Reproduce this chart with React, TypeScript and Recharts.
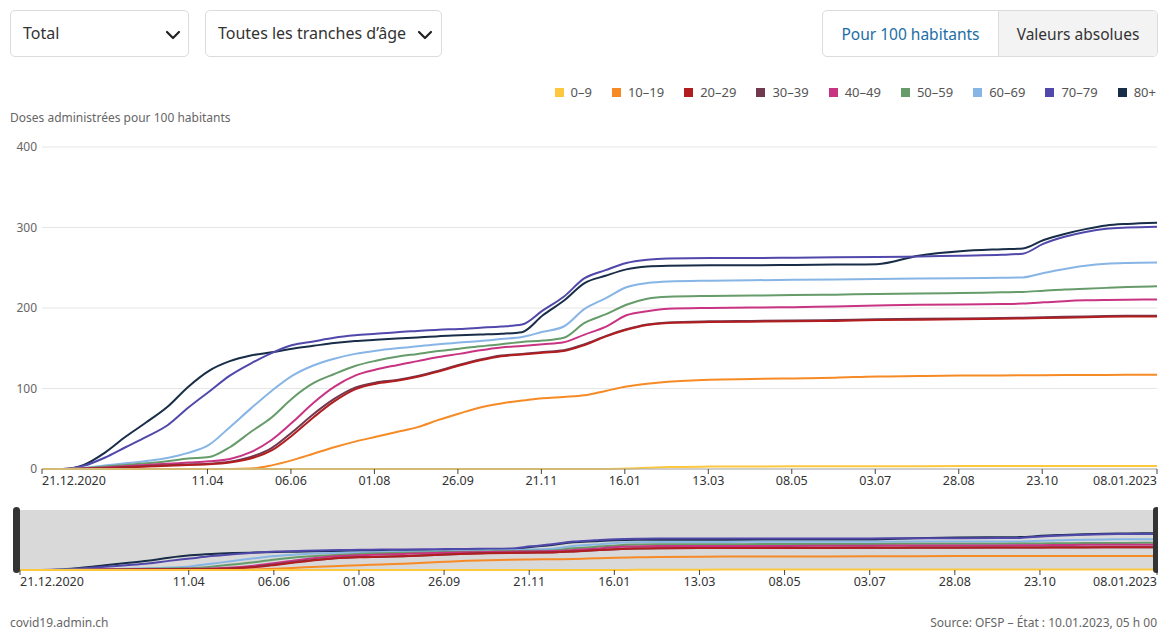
import React from 'react';
import { LineChart, Line, XAxis, YAxis, CartesianGrid } from 'recharts';

// days since 21.12.2020
const DAYS = [
  0, 14, 28, 42, 56, 70, 84, 98, 112, 126, 140, 154, 168, 182, 196, 210, 224, 238, 252, 266, 280, 294, 308, 322,
  336, 350, 364, 378, 392, 406, 420, 448, 476, 504, 532, 560, 588, 616, 644, 658, 672, 686, 700, 714, 728, 748,
];

const AGE_0_9 = [
  0, 0, 0, 0, 0, 0, 0, 0, 0, 0, 0, 0, 0, 0, 0, 0, 0, 0, 0, 0, 0, 0, 0, 0, 0, 0, 0, 0, 0.5, 1.5, 2.5, 3, 3.2, 3.3,
  3.4, 3.5, 3.5, 3.6, 3.6, 3.7, 3.7, 3.7, 3.8, 3.8, 3.8, 3.8,
];
const AGE_10_19 = [
  0, 0, 0, 0, 0, 0, 0, 0, 0, 0, 0.5, 4.5, 11, 19, 27, 34, 40, 46, 52, 61, 69, 76.5, 81.5, 85, 88, 89.5, 91.5, 97,
  102.5, 106, 108.5, 111, 111.8, 112.5, 113.5, 115, 115.5, 116, 116.3, 116.5, 116.6, 116.7, 116.8, 116.9, 117, 117,
];
const AGE_20_29 = [
  0, 0, 0.3, 1, 2, 3, 4, 5, 5.8, 8, 13, 23, 42, 64, 84, 99, 106, 109.5, 114.5, 121, 128.5, 135, 140, 142.2, 144.5,
  146.5, 154, 164.5, 173, 179, 181.5, 182.5, 183, 183.5, 184, 185, 185.5, 186, 186.5, 187, 187.5, 188, 188.5, 189,
  189.3, 189.5,
];
const AGE_30_39 = [
  0, 0, 0.4, 1.2, 2.4, 3.5, 4.6, 5.6, 6.5, 9, 15, 26, 46, 68, 87, 101, 107.5, 110.5, 115.5, 122, 129.5, 136, 141,
  143, 145.5, 147.5, 155, 165, 173.5, 179.5, 182, 183.5, 184, 184.5, 185, 186, 186.5, 187, 187.5, 188, 188.5, 189,
  189.5, 190, 190.3, 190.5,
];
const AGE_40_49 = [
  0, 0, 0.5, 2, 3.5, 5, 6.5, 8, 9.5, 12.5, 21, 36, 58, 82, 102, 116, 123.5, 129, 134, 139, 143, 147.5, 151, 152.8,
  155, 157.5, 167, 176.5, 191, 196, 199, 200, 200.5, 201, 202, 203, 204, 204.5, 205, 205.6, 207, 208.5, 209.5, 210,
  210.3, 210.5,
];
const AGE_50_59 = [
  0, 0, 1, 3, 5, 7, 9.5, 13, 14.8, 27, 46, 64, 88, 106.6, 118, 128, 134.5, 139.5, 143, 146.5, 149.5, 152.5, 155,
  157.8, 159.5, 163, 181.5, 192, 204, 211.5, 214, 215, 215.5, 216, 216.5, 217.5, 218, 218.5, 219.5, 220, 221.5, 223,
  224, 225, 226, 227,
];
const AGE_60_69 = [
  0, 0, 1.5, 4.5, 7, 10, 13.7, 20, 30, 52, 75, 97, 116, 128.6, 137, 143, 147, 150, 152.5, 155, 157, 159, 161.5, 164,
  170.5, 177, 199, 212, 225.8, 231, 233, 234, 234.5, 235, 235.5, 236, 236.5, 237, 237.5, 238, 243.5, 248.5, 252.5,
  255, 256, 256.5,
];
const AGE_70_79 = [
  0, 0, 4, 14, 27, 40, 54, 76, 96, 116, 131, 144, 154, 158.5, 163, 166, 168, 170, 171.5, 173, 174, 175.5, 177,
  179.5, 197, 214, 237, 247, 256, 260, 261.5, 262, 262, 262.5, 263, 263.5, 264, 265, 266, 267.5, 280, 288.5, 294.5,
  298.5, 300, 301,
];
const AGE_80 = [
  0, 0, 5, 20, 40, 58, 77, 102, 122, 134, 141, 145, 149.5, 153, 156.5, 159, 160.5, 162, 163.5, 165, 166, 167, 168,
  170, 191, 209, 231, 240, 248, 251.5, 252.5, 253, 253, 253.5, 254, 254.5, 265, 270.5, 273, 274, 284.5, 292, 298,
  302.5, 304.5, 306,
];

const TICK_DAYS = [0, 111, 167, 223, 279, 335, 391, 447, 503, 559, 615, 671, 748];
const TICK_LABELS = [
  '21.12.2020', '11.04', '06.06', '01.08', '26.09', '21.11', '16.01', '13.03', '08.05', '03.07', '28.08', '23.10',
  '08.01.2023',
];
const Y_TICKS = [0, 100, 200, 300, 400];

const SERIES = [
  { key: 'a0', label: '0–9', color: '#fdc83e', values: AGE_0_9 },
  { key: 'a10', label: '10–19', color: '#f68b26', values: AGE_10_19 },
  { key: 'a20', label: '20–29', color: '#b21d1f', values: AGE_20_29 },
  { key: 'a30', label: '30–39', color: '#71394e', values: AGE_30_39 },
  { key: 'a40', label: '40–49', color: '#c93482', values: AGE_40_49 },
  { key: 'a50', label: '50–59', color: '#669b6a', values: AGE_50_59 },
  { key: 'a60', label: '60–69', color: '#87b5e5', values: AGE_60_69 },
  { key: 'a70', label: '70–79', color: '#5048aa', values: AGE_70_79 },
  { key: 'a80', label: '80+', color: '#182d48', values: AGE_80 },
];

const data = DAYS.map((day, i) => {
  const row: Record<string, number> = { day };
  SERIES.forEach((s) => (row[s.key] = s.values[i]));
  return row;
});

const FONT = '"Noto Sans", "Open Sans", sans-serif';
const LAST = TICK_DAYS[TICK_DAYS.length - 1];

function DateTick(props: any) {
  const { x, y, payload } = props;
  const idx = TICK_DAYS.indexOf(payload.value);
  const anchor = payload.value === 0 ? 'start' : payload.value === LAST ? 'end' : 'middle';
  return (
    <text x={x} y={y} dy="0.71em" textAnchor={anchor} fill="#333" fontSize={12.5} fontFamily={FONT}>
      {TICK_LABELS[idx]}
    </text>
  );
}

function Chevron({ left }: { left: number }) {
  return (
    <svg width="16" height="10" style={{ position: 'absolute', left, top: 19 }}>
      <path d="M2 2 L8 8 L14 2" fill="none" stroke="#222" strokeWidth="2.2" strokeLinecap="round" strokeLinejoin="round" />
    </svg>
  );
}

const box: React.CSSProperties = {
  position: 'absolute',
  top: 10,
  height: 47,
  boxSizing: 'border-box',
  border: '1px solid #dcdcdc',
  borderRadius: 5,
  background: '#fff',
  fontSize: 16,
  color: '#333',
};

export default function App() {
  const reversed = [...SERIES].reverse();
  return (
    <div style={{ position: 'relative', width: 1158, height: 630, fontFamily: FONT, background: '#fff', overflow: 'hidden' }}>
      <style>{'body{margin:0}'}</style>

      {/* controls */}
      <div style={{ ...box, left: 10, width: 179 }}>
        <span style={{ position: 'absolute', left: 12, top: 11 }}>Total</span>
        <Chevron left={154} />
      </div>
      <div style={{ ...box, left: 205, width: 237 }}>
        <span style={{ position: 'absolute', left: 12, top: 11 }}>Toutes les tranches d’âge</span>
        <Chevron left={211} />
      </div>
      <div style={{ ...box, left: 822, width: 336, display: 'flex', overflow: 'hidden' }}>
        <div style={{ width: 175, borderRight: '1px solid #dcdcdc', color: '#1b6ea5', display: 'flex', alignItems: 'center', justifyContent: 'center', fontSize: 15.5 }}>
          Pour 100 habitants
        </div>
        <div style={{ flex: 1, background: '#f3f3f3', display: 'flex', alignItems: 'center', justifyContent: 'center', fontSize: 15.5 }}>
          Valeurs absolues
        </div>
      </div>

      {/* legend */}
      <div style={{ position: 'absolute', right: 2, top: 83, display: 'flex', alignItems: 'center', fontSize: 13, color: '#555' }}>
        {SERIES.map((s, i) => (
          <div key={s.key} style={{ display: 'flex', alignItems: 'center', marginLeft: i === 0 ? 0 : 20 }}>
            <span style={{ width: 9, height: 9, background: s.color, display: 'inline-block', marginRight: 7 }} />
            <span>{s.label}</span>
          </div>
        ))}
      </div>

      <div style={{ position: 'absolute', left: 10, top: 109, fontSize: 12, color: '#666' }}>
        Doses administrées pour 100 habitants
      </div>

      {/* main chart */}
      <div style={{ position: 'absolute', left: 0, top: 137 }}>
        <LineChart width={1158} height={362} data={data} margin={{ top: 10, right: 1, bottom: 0, left: 0 }}>
          <CartesianGrid vertical={false} stroke="#e6e6e6" />
          <XAxis
            dataKey="day"
            type="number"
            domain={[0, LAST]}
            ticks={TICK_DAYS}
            tick={<DateTick />}
            tickSize={5}
            tickMargin={2}
            height={30}
            axisLine={{ stroke: '#aaa' }}
            tickLine={{ stroke: '#444' }}
            interval={0}
          />
          <YAxis
            domain={[0, 400]}
            ticks={Y_TICKS}
            width={42}
            axisLine={false}
            tickLine={false}
            tickSize={5}
            tickMargin={0}
            tick={{ fontSize: 12, fill: '#666', fontFamily: FONT }}
          />
          {reversed.map((s) => (
            <Line
              key={s.key}
              type="monotone"
              dataKey={s.key}
              stroke={s.color}
              strokeWidth={2}
              dot={false}
              activeDot={false}
              isAnimationActive={false}
            />
          ))}
        </LineChart>
      </div>

      {/* overview (brush) */}
      <div style={{ position: 'absolute', left: 0, top: 500 }}>
        <LineChart width={1158} height={100} data={data} margin={{ top: 10, right: 1, bottom: 0, left: 20 }}>
          <CartesianGrid horizontal={false} vertical={false} fill="#d9d9d9" stroke="none" />
          <XAxis
            dataKey="day"
            type="number"
            domain={[0, LAST]}
            ticks={TICK_DAYS}
            tick={<DateTick />}
            tickSize={5}
            tickMargin={2}
            height={30}
            stroke="#444"
            axisLine={false}
            interval={0}
          />
          <YAxis hide domain={[0, 500]} />
          {reversed.map((s) => (
            <Line
              key={s.key}
              type="monotone"
              dataKey={s.key}
              stroke={s.color}
              strokeWidth={2}
              dot={false}
              activeDot={false}
              isAnimationActive={false}
            />
          ))}
        </LineChart>
      </div>
      <div style={{ position: 'absolute', left: 13, top: 507, width: 7, height: 66, borderRadius: 4, background: '#333' }} />
      <div style={{ position: 'absolute', left: 1153, top: 507, width: 7, height: 66, borderRadius: 4, background: '#333' }} />

      {/* footer */}
      <div style={{ position: 'absolute', left: 10, top: 614, fontSize: 12, color: '#666' }}>covid19.admin.ch</div>
      <div style={{ position: 'absolute', right: 1, top: 614, fontSize: 12, color: '#666' }}>
        Source: OFSP – État : 10.01.2023, 05 h 00
      </div>
    </div>
  );
}
